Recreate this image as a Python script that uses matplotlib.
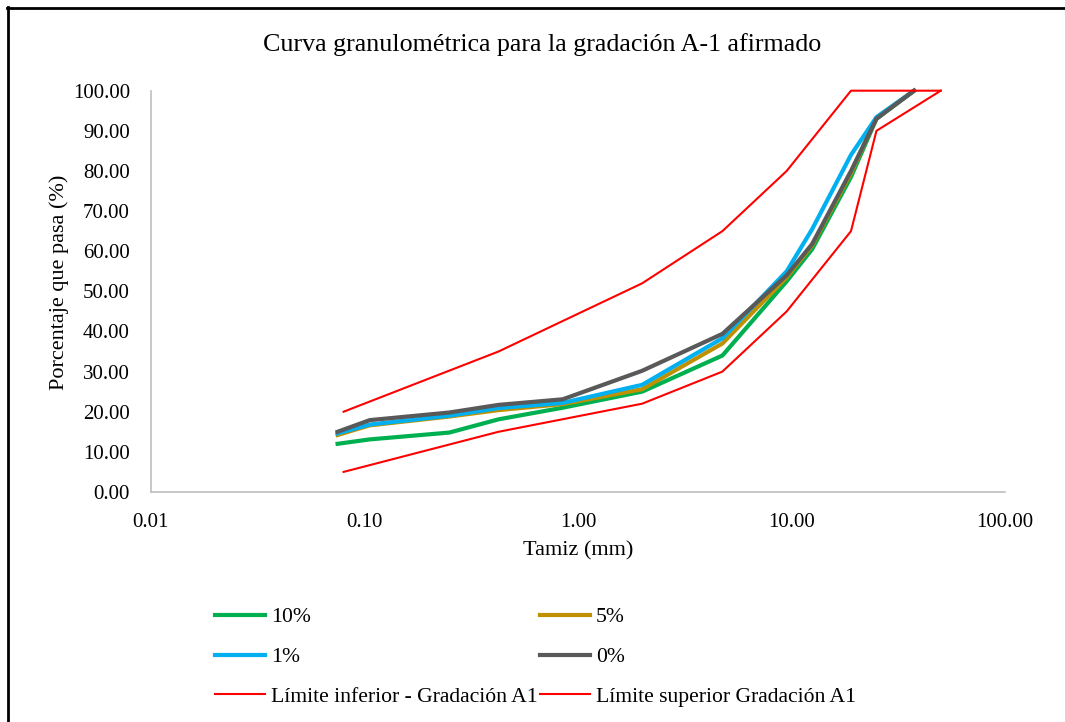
import matplotlib
matplotlib.use("Agg")
import matplotlib.pyplot as plt
from matplotlib.ticker import FixedLocator, FuncFormatter
from matplotlib.lines import Line2D

plt.rcParams['font.family'] = ['Liberation Serif', 'DejaVu Serif']

# Sieve sizes (mm)
sieves = [0.075, 0.106, 0.25, 0.425, 0.85, 2.0, 4.75, 9.5, 12.5, 19.0, 25.0, 37.5]
pct_10 = [12.0, 13.1, 14.8, 18.1, 21.0, 25.0, 34.0, 52.5, 60.5, 78.5, 93.0, 100.0]
pct_5 = [14.2, 16.6, 18.8, 20.4, 21.9, 25.6, 37.0, 53.5, 61.5, 79.5, 93.3, 100.0]
pct_1 = [14.6, 16.8, 19.0, 20.9, 22.2, 26.7, 38.3, 55.0, 65.5, 84.0, 93.4, 100.0]
pct_0 = [15.0, 17.9, 19.8, 21.7, 23.1, 30.2, 39.4, 54.0, 61.8, 80.0, 93.0, 100.0]

lim_inf_x = [0.08, 0.425, 2.0, 4.75, 9.5, 19.0, 25.0, 50.0]
lim_inf_y = [5.0, 15.0, 22.0, 30.0, 45.0, 65.0, 90.0, 100.0]
lim_sup_x = [0.08, 0.425, 2.0, 4.75, 9.5, 19.0, 50.0]
lim_sup_y = [20.0, 35.0, 52.0, 65.0, 80.0, 100.0, 100.0]

x_ticks = [0.01, 0.1, 1, 10, 100]
y_ticks = [0, 10, 20, 30, 40, 50, 60, 70, 80, 90, 100]

fig = plt.figure(figsize=(10.65, 7.22), dpi=100)
ax = fig.add_axes([0.1415, 0.3186, 0.8022, 0.5558])

h10, = ax.plot(sieves, pct_10, color='#00B050', lw=3.0, label='10%', clip_on=False)
h5, = ax.plot(sieves, pct_5, color='#BF9000', lw=3.0, label='5%', clip_on=False)
h1, = ax.plot(sieves, pct_1, color='#00B0F0', lw=3.0, label='1%', clip_on=False)
h0, = ax.plot(sieves, pct_0, color='#595959', lw=3.0, label='0%', clip_on=False)
hi, = ax.plot(lim_inf_x, lim_inf_y, color='#FF0000', lw=1.5,
              label='Límite inferior - Gradación A1', clip_on=False)
hs, = ax.plot(lim_sup_x, lim_sup_y, color='#FF0000', lw=1.5,
              label='Límite superior Gradación A1', clip_on=False)

ax.set_xscale('log')
ax.set_xlim(0.01, 100)
ax.set_ylim(0, 100)
ax.xaxis.set_major_locator(FixedLocator(x_ticks))
ax.xaxis.set_minor_locator(FixedLocator([]))
ax.xaxis.set_major_formatter(FuncFormatter(lambda v, p: f'{v:.2f}'))
ax.yaxis.set_major_locator(FixedLocator(y_ticks))
ax.yaxis.set_major_formatter(FuncFormatter(lambda v, p: f'{v:.2f}'))
ax.tick_params(axis='both', length=0, labelsize=15)
ax.tick_params(axis='y', pad=15)
ax.tick_params(axis='x', pad=15)
for s in ['top', 'right']:
    ax.spines[s].set_visible(False)
for s in ['left', 'bottom']:
    ax.spines[s].set_color('#BFBFBF')
    ax.spines[s].set_linewidth(1.2)

ax.set_xlabel('Tamiz (mm)', fontsize=16, labelpad=7)
ax.set_ylabel('Porcentaje que pasa (%)', fontsize=16)
ax.yaxis.set_label_coords(-0.096, 0.522)
fig.text(542/1065, 1 - 45/722, 'Curva granulométrica para la gradación A-1 afirmado',
         ha='center', va='center', fontsize=18.7)

leg = fig.legend(handles=[h10, h1, hi, h5, h0, hs], ncol=2, loc='upper left',
                 bbox_to_anchor=(198/1065, 1 - 590/722), frameon=False,
                 fontsize=15.6, handlelength=2.3, handletextpad=0.28,
                 columnspacing=0.1, labelspacing=0.9, borderpad=0.3)

# Outer border (left and top only visible)
fig.add_artist(Line2D([8/1065, 8/1065], [0, 1 - 7/722], color='black', lw=2, transform=fig.transFigure))
fig.add_artist(Line2D([7/1065, 1], [1 - 7.5/722, 1 - 7.5/722], color='black', lw=2, transform=fig.transFigure))

fig.savefig('out.png', dpi=100)
